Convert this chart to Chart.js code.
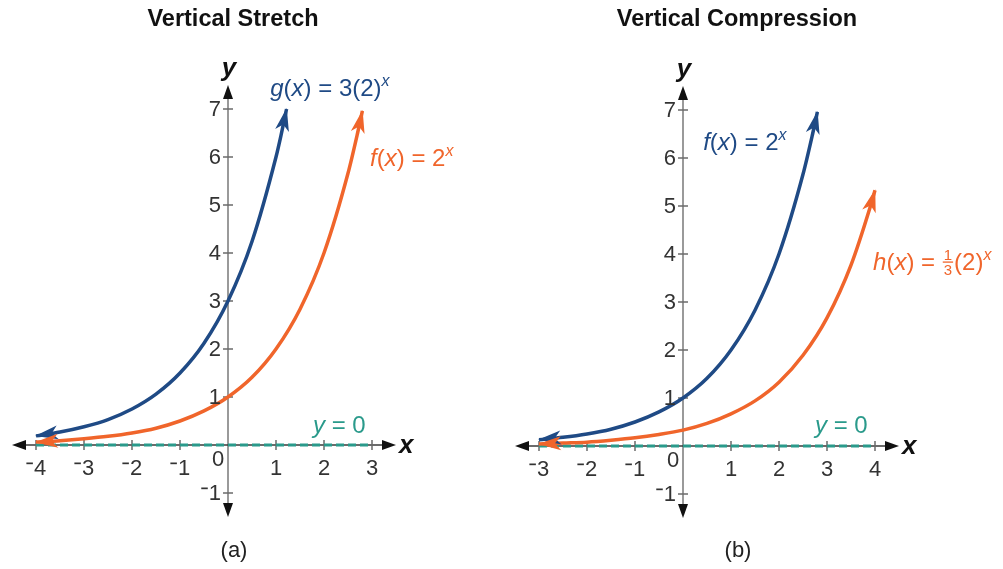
<!DOCTYPE html>
<html><head><meta charset="utf-8">
<script src="https://cdn.jsdelivr.net/npm/chart.js@4.4.0/dist/chart.umd.min.js"></script>
<style>
html,body{margin:0;padding:0;background:#fff;}
#wrap{position:relative;width:1003px;height:569px;overflow:hidden;background:#fff;}
canvas{position:absolute;top:0;}
#ca{left:0;} #cb{left:500px;}
</style></head><body>
<div id="wrap"><canvas id="ca" width="500" height="569"></canvas><canvas id="cb" width="503" height="569"></canvas></div>
<script>
// ---------- Data ----------
// Panel (a): Vertical Stretch
const gX  = [-4, -3.5, -3, -2.5, -2, -1.5, -1, -0.5, 0, 0.5, 1, 1.1, 1.22];
const gY  = [0.19, 0.27, 0.38, 0.53, 0.75, 1.06, 1.5, 2.12, 3, 4.24, 6, 6.43, 7.0];
const fAX = [-4, -3.5, -3, -2.5, -2, -1.5, -1, -0.5, 0, 0.5, 1, 1.5, 2, 2.5, 2.7, 2.8];
const fAY = [0.06, 0.09, 0.13, 0.18, 0.25, 0.35, 0.5, 0.71, 1, 1.41, 2, 2.83, 4, 5.66, 6.5, 6.96];
const asymAX = [-4, 3];
const asymAY = [0, 0];
const xTicksA = [-4, -3, -2, -1, 1, 2, 3];
// Panel (b): Vertical Compression
const fBX = [-3, -2.5, -2, -1.5, -1, -0.5, 0, 0.5, 1, 1.5, 2, 2.5, 2.7, 2.8];
const fBY = [0.13, 0.18, 0.25, 0.35, 0.5, 0.71, 1, 1.41, 2, 2.83, 4, 5.66, 6.5, 6.96];
const hX  = [-3, -2.5, -2, -1.5, -1, -0.5, 0, 0.5, 1, 1.5, 2, 2.5, 3, 3.5, 3.9, 4];
const hY  = [0.04, 0.06, 0.08, 0.12, 0.17, 0.24, 0.33, 0.47, 0.67, 0.94, 1.33, 1.89, 2.67, 3.77, 4.98, 5.33];
const asymBX = [-3, 4];
const asymBY = [0, 0];
const xTicksB = [-3, -2, -1, 1, 2, 3, 4];
const yTicks = [-1, 1, 2, 3, 4, 5, 6, 7];

// ---------- Styles ----------
const BLUE = '#1f4a85', ORANGE = '#f0652b', TEAL = '#2a9a8b';
const FONT = '"Liberation Sans", Arial, sans-serif';
const TXT = '#333333';

function pts(xs, ys){ return xs.map((x,i)=>({x:x, y:ys[i]})); }
function curve(xs, ys, color){
  return {data: pts(xs, ys), showLine:true, borderColor:color, borderWidth:3.5, pointRadius:0,
          cubicInterpolationMode:'monotone', fill:false, arrows:true};
}
function asym(xs, ys){
  return {data: pts(xs, ys), showLine:true, borderColor:TEAL, borderWidth:3.2, pointRadius:0,
          borderDash:[8,4], fill:false};
}

function arrowHead(ctx, tx, ty, fx, fy, color, len, half){
  const a = Math.atan2(ty-fy, tx-fx);
  ctx.save(); ctx.translate(tx, ty); ctx.rotate(a);
  ctx.beginPath(); ctx.moveTo(1,0); ctx.lineTo(-len,-half); ctx.lineTo(-len*0.72,0); ctx.lineTo(-len,half); ctx.closePath();
  ctx.fillStyle = color; ctx.fill(); ctx.restore();
}

function drawNum(ctx, v, x, y, align){
  // y = vertical middle; negative numbers use a short raised minus
  const s = String(Math.abs(v));
  ctx.font = '22px ' + FONT;
  const wd = ctx.measureText(s).width;
  const wm = v < 0 ? 8 : 0;
  const total = wd + wm;
  let left = align === 'right' ? x - total : (align === 'center' ? x - total/2 : x);
  ctx.fillStyle = TXT; ctx.textBaseline = 'middle'; ctx.textAlign = 'left';
  if (v < 0){
    ctx.fillRect(left + 0.5, y - 5.5, 6.5, 1.7);
  }
  ctx.fillText(s, left + wm, y + 1);
}

// rich text: segments {t, it, sup}
function drawRich(ctx, segs, x, y, size, color){
  let cx = x;
  ctx.textBaseline = 'alphabetic'; ctx.textAlign = 'left'; ctx.fillStyle = color;
  segs.forEach(s=>{
    if (s.frac){
      const fs = Math.round(size*0.62);
      ctx.font = fs + 'px ' + FONT;
      const w = Math.max(ctx.measureText(s.frac[0]).width, ctx.measureText(s.frac[1]).width);
      ctx.textAlign = 'center';
      ctx.fillText(s.frac[0], cx + w/2 + 1, y - size*0.42);
      ctx.fillText(s.frac[1], cx + w/2 + 1, y + size*0.2);
      ctx.fillRect(cx, y - size*0.35, w + 2, 1.3);
      ctx.textAlign = 'left';
      cx += w + 3;
      return;
    }
    const fs = s.sup ? Math.round(size*0.66) : size;
    ctx.font = (s.it ? 'italic ' : '') + fs + 'px ' + FONT;
    ctx.fillText(s.t, cx, s.sup ? y - size*0.42 : y);
    cx += ctx.measureText(s.t).width + (s.sp || 0);
  });
}

function makePlugin(cfg){
  return {
    id: 'decor',
    beforeDatasetsDraw(chart){
      const ctx = chart.ctx, xs = chart.scales.x, ys = chart.scales.y;
      const ox = xs.getPixelForValue(0), oy = ys.getPixelForValue(0);
      const xl = xs.getPixelForValue(xs.min), xr = xs.getPixelForValue(xs.max);
      const yt = ys.getPixelForValue(ys.max), yb = ys.getPixelForValue(ys.min);
      ctx.save();
      // y axis (gray)
      ctx.strokeStyle = '#9a9a9a'; ctx.lineWidth = 2;
      ctx.beginPath(); ctx.moveTo(ox, yt + 8); ctx.lineTo(ox, yb - 8); ctx.stroke();
      // x axis
      ctx.strokeStyle = '#3a3a3a'; ctx.lineWidth = 1.5;
      ctx.beginPath(); ctx.moveTo(xl + 8, oy); ctx.lineTo(xr - 8, oy); ctx.stroke();
      // ticks
      ctx.strokeStyle = '#6a6a6a'; ctx.lineWidth = 1.5;
      cfg.xTicks.forEach(v=>{ const p = xs.getPixelForValue(v);
        ctx.beginPath(); ctx.moveTo(p, oy-5); ctx.lineTo(p, oy+5); ctx.stroke(); });
      cfg.yTicks.forEach(v=>{ const p = ys.getPixelForValue(v);
        ctx.beginPath(); ctx.moveTo(ox-5, p); ctx.lineTo(ox+5, p); ctx.stroke(); });
      // axis arrows
      ctx.fillStyle = '#111';
      const tri = (x1,y1,x2,y2,x3,y3)=>{ctx.beginPath();ctx.moveTo(x1,y1);ctx.lineTo(x2,y2);ctx.lineTo(x3,y3);ctx.closePath();ctx.fill();};
      tri(xl, oy, xl+14, oy-5, xl+14, oy+5);
      tri(xr, oy, xr-14, oy-5, xr-14, oy+5);
      tri(ox, yt, ox-5, yt+14, ox+5, yt+14);
      tri(ox, yb, ox-5, yb-14, ox+5, yb-14);
      ctx.restore();
    },
    afterDatasetsDraw(chart){
      const ctx = chart.ctx;
      chart.data.datasets.forEach((ds, i)=>{
        if (!ds.arrows) return;
        const meta = chart.getDatasetMeta(i);
        const d = meta.data, n = d.length;
        arrowHead(ctx, d[0].x, d[0].y, d[1].x, d[1].y, ds.borderColor, 22, 7);
        arrowHead(ctx, d[n-1].x, d[n-1].y, d[n-2].x, d[n-2].y, ds.borderColor, 22, 7);
      });
    },
    afterDraw(chart){
      const ctx = chart.ctx, xs = chart.scales.x, ys = chart.scales.y;
      const ox = xs.getPixelForValue(0), oy = ys.getPixelForValue(0);
      const xr = xs.getPixelForValue(xs.max), yt = ys.getPixelForValue(ys.max);
      ctx.save();
      cfg.xTicks.forEach(v=> drawNum(ctx, v, xs.getPixelForValue(v), oy + 23, 'center'));
      cfg.yTicks.forEach(v=> drawNum(ctx, v, ox - 7, ys.getPixelForValue(v), 'right'));
      drawNum(ctx, 0, ox - 10, oy + 14, 'center');
      // axis names
      ctx.fillStyle = '#111'; ctx.font = 'italic bold 26px ' + FONT;
      ctx.textBaseline = 'middle'; ctx.textAlign = 'left';
      ctx.fillText('x', xr + 3, oy + 1);
      ctx.textAlign = 'center';
      ctx.fillText('y', ox + 1, yt - 16);
      // title & caption
      ctx.font = 'bold 23.5px ' + FONT; ctx.fillStyle = '#111';
      ctx.fillText(cfg.title, cfg.titleX, 20);
      ctx.font = '22px ' + FONT; ctx.fillStyle = '#222';
      ctx.fillText(cfg.caption, cfg.titleX + 1, 551);
      // annotations
      cfg.labels.forEach(l=>{
        drawRich(ctx, l.segs, xs.getPixelForValue(l.x), ys.getPixelForValue(l.y), 24, l.color);
      });
      ctx.restore();
    }
  };
}

function makeChart(id, datasets, xmin, xmax, pad, cfg){
  return new Chart(document.getElementById(id), {
    type: 'scatter',
    data: { datasets: datasets },
    options: {
      responsive:false, animation:false, devicePixelRatio:1,
      layout: { padding: pad },
      plugins: { legend:{display:false}, tooltip:{enabled:false} },
      scales: {
        x: { type:'linear', min:xmin, max:xmax, display:false },
        y: { type:'linear', min:-1.5, max:7.5, display:false }
      }
    },
    plugins: [makePlugin(cfg)]
  });
}

const EQ = {t:' = '};
makeChart('ca', [curve(gX, gY, BLUE), curve(fAX, fAY, ORANGE), asym(asymAX, asymAY)],
  -4.5, 3.5, {left:12, right:104, top:85, bottom:52},
  { xTicks:xTicksA, yTicks:yTicks, title:'Vertical Stretch', titleX:233, caption:'(a)',
    labels:[
      {x:0.88, y:7.27, color:BLUE, segs:[{t:'g',it:true},{t:'('},{t:'x',it:true},{t:')'},EQ,{t:'3(2)'},{t:'x',it:true,sup:true}]},
      {x:2.96, y:5.81, color:ORANGE, segs:[{t:'f',it:true},{t:'('},{t:'x',it:true},{t:')'},EQ,{t:'2'},{t:'x',it:true,sup:true}]},
      {x:1.77, y:0.25, color:TEAL, segs:[{t:'y',it:true},EQ,{t:'0'}]}
    ]});

makeChart('cb', [curve(fBX, fBY, BLUE), curve(hX, hY, ORANGE), asym(asymBX, asymBY)],
  -3.5, 4.5, {left:15, right:104, top:86, bottom:51},
  { xTicks:xTicksB, yTicks:yTicks, title:'Vertical Compression', titleX:237, caption:'(b)',
    labels:[
      {x:0.42, y:6.17, color:BLUE, segs:[{t:'f',it:true},{t:'('},{t:'x',it:true},{t:')'},EQ,{t:'2'},{t:'x',it:true,sup:true}]},
      {x:3.96, y:3.67, color:ORANGE, segs:[{t:'h',it:true},{t:'('},{t:'x',it:true},{t:')'},{t:' = ',sp:1},{frac:['1','3']},{t:'(2)'},{t:'x',it:true,sup:true}]},
      {x:2.75, y:0.27, color:TEAL, segs:[{t:'y',it:true},EQ,{t:'0'}]}
    ]});
</script>
</body></html>
